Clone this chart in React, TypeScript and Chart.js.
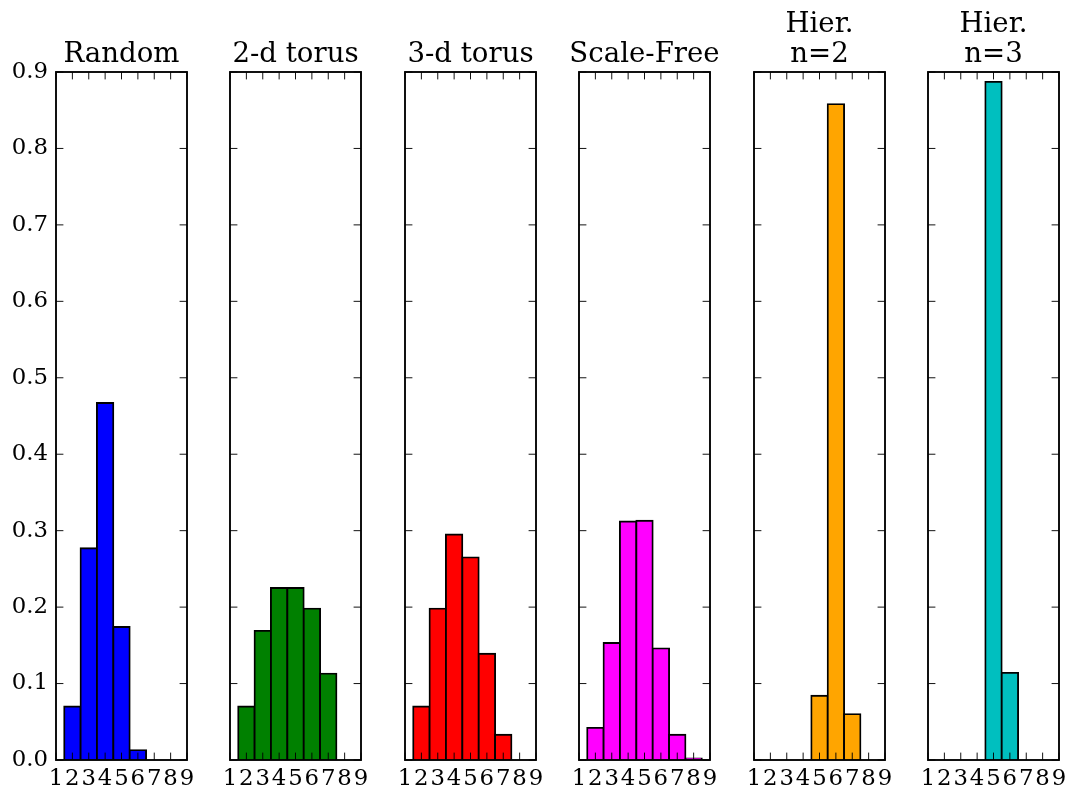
import React, { useEffect, useRef } from 'react';
import { Chart, registerables } from 'chart.js';

Chart.register(...registerables);

// ---- data ----
const binLabels = ['1', '2', '3', '4', '5', '6', '7', '8', '9'];
const yMin = 0;
const yMax = 0.9;
const yStep = 0.1;

const randomValues = [null, 0.070, 0.277, 0.467, 0.174, 0.013, null, null, null];
const torus2dValues = [null, 0.070, 0.169, 0.225, 0.225, 0.198, 0.113, null, null];
const torus3dValues = [null, 0.070, 0.198, 0.295, 0.265, 0.139, 0.033, null, null];
const scaleFreeValues = [null, 0.042, 0.153, 0.312, 0.313, 0.146, 0.033, 0.002, null];
const hier2Values = [null, null, null, null, 0.084, 0.858, 0.060, null, null];
const hier3Values = [null, null, null, null, 0.887, 0.114, null, null, null];

const panelTitles: string[][] = [
  ['Random'],
  ['2-d torus'],
  ['3-d torus'],
  ['Scale-Free'],
  ['Hier.', 'n=2'],
  ['Hier.', 'n=3'],
];
const panelValues = [randomValues, torus2dValues, torus3dValues, scaleFreeValues, hier2Values, hier3Values];
const panelColors = ['#0000ff', '#008000', '#ff0000', '#ff00ff', '#ffa500', '#00bfbf'];

// ---- layout ----
const panelLefts = [56, 230, 405, 579, 754, 928];
const axWidth = 131;
const canvasHeight = 791;
const axTop = 72;
const axBottom = 760;
const FONT = '"DejaVu Serif", serif';
const tickFontSize = 22.8;
const titleFontSize = 27.6;
const titleLineH = 29.4;
const titleMiddleLast = 54.5;

const framePlugin = {
  id: 'mplFrame',
  afterDatasetsDraw(chart: any) {
    const { ctx, chartArea: a, scales } = chart;
    const xs = scales.x;
    const ys = scales.y;
    const len = 7.4;
    ctx.save();
    ctx.strokeStyle = '#000';
    ctx.lineWidth = 0.93;
    ctx.beginPath();
    xs.ticks.forEach((_: any, i: number) => {
      const px = xs.getPixelForTick(i);
      ctx.moveTo(px, a.bottom);
      ctx.lineTo(px, a.bottom - len);
      ctx.moveTo(px, a.top);
      ctx.lineTo(px, a.top + len);
    });
    ys.ticks.forEach((_: any, i: number) => {
      const py = ys.getPixelForTick(i);
      ctx.moveTo(a.left, py);
      ctx.lineTo(a.left + len, py);
      ctx.moveTo(a.right, py);
      ctx.lineTo(a.right - len, py);
    });
    ctx.stroke();
    ctx.lineWidth = 1.86;
    ctx.strokeRect(a.left, a.top, a.right - a.left, a.bottom - a.top);
    ctx.restore();
  },
};

function Panel({ index }: { index: number }) {
  const ref = useRef<HTMLCanvasElement | null>(null);
  const first = index === 0;
  const margin = first ? 56 : 24;
  const width = axWidth + 2 * margin;
  const left = panelLefts[index] - margin;

  useEffect(() => {
    if (!ref.current) return;
    const lines = panelTitles[index];
    const padTop = titleMiddleLast - (lines.length - 1) * titleLineH - titleLineH / 2;
    const padBottom = axTop - padTop - lines.length * titleLineH;
    const chart = new Chart(ref.current, {
      type: 'bar',
      data: {
        labels: binLabels,
        datasets: [
          {
            data: panelValues[index] as any,
            backgroundColor: panelColors[index],
            borderColor: '#000000',
            borderWidth: 1.86,
            inflateAmount: 0.93,
            barPercentage: 1,
            categoryPercentage: 1,
          } as any,
        ],
      },
      options: {
        responsive: false,
        animation: false,
        devicePixelRatio: 1,
        layout: { padding: 0 },
        plugins: {
          legend: { display: false },
          tooltip: { enabled: false },
          title: {
            display: true,
            text: lines.length > 1 ? lines : lines[0],
            color: '#000',
            font: { family: FONT, size: titleFontSize, weight: 'normal', lineHeight: titleLineH / titleFontSize },
            padding: { top: padTop, bottom: padBottom },
          },
        },
        scales: {
          x: {
            type: 'category',
            offset: false,
            grid: { display: false, drawTicks: false },
            border: { display: false },
            ticks: {
              autoSkip: false,
              maxRotation: 0,
              minRotation: 0,
              padding: 5,
              color: '#000',
              font: { family: FONT, size: tickFontSize },
            },
            afterFit: (s: any) => {
              s.height = canvasHeight - axBottom;
            },
          },
          y: {
            type: 'linear',
            position: 'left',
            min: yMin,
            max: yMax,
            grid: { display: false, drawTicks: false },
            border: { display: false },
            ticks: {
              display: first,
              stepSize: yStep,
              padding: 8,
              color: '#000',
              font: { family: FONT, size: tickFontSize },
              callback: (v: any) => Number(v).toFixed(1),
            },
            afterFit: (s: any) => {
              s.width = margin;
            },
          },
          yRight: {
            type: 'linear',
            position: 'right',
            min: yMin,
            max: yMax,
            grid: { display: false, drawTicks: false },
            border: { display: false },
            ticks: { display: false, stepSize: yStep },
            afterFit: (s: any) => {
              s.width = margin;
            },
          },
        },
      },
      plugins: [framePlugin],
    });
    return () => chart.destroy();
  }, [index]);

  return (
    <canvas
      ref={ref}
      width={width}
      height={canvasHeight}
      style={{ position: 'absolute', left, top: 0, width, height: canvasHeight }}
    />
  );
}

export default function App() {
  return (
    <div style={{ position: 'absolute', left: 0, top: 0, width: 1073, height: 791, background: '#fff' }}>
      {panelTitles.map((_, i) => (
        <Panel key={i} index={i} />
      ))}
    </div>
  );
}
